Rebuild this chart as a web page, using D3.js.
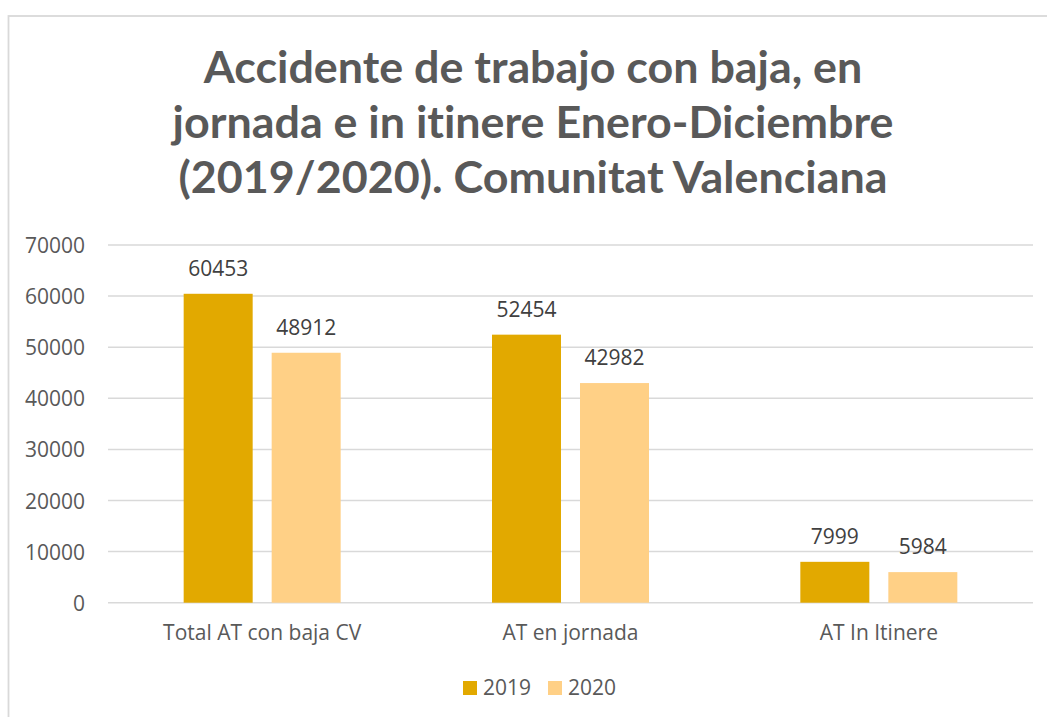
<!DOCTYPE html>
<html>
<head>
<meta charset="utf-8">
<script src="https://cdn.jsdelivr.net/npm/d3@7"></script>
<style>
  html, body { margin: 0; padding: 0; background: #ffffff; }
  svg { display: block; }
  text { font-variant-ligatures: none; font-feature-settings: "liga" 0, "clig" 0, "dlig" 0; }
</style>
</head>
<body>
<svg id="chart" width="1047" height="717"></svg>
<script>
const titleLines = [
  "Accidente de trabajo con baja, en",
  "jornada e in itinere Enero-Diciembre",
  "(2019/2020). Comunitat Valenciana"
];
const categories = ["Total AT con baja CV", "AT en jornada", "AT In Itinere"];
const seriesNames = ["2019", "2020"];
const values2019 = [60453, 52454, 7999];
const values2020 = [48912, 42982, 5984];
const yTicks = [0, 10000, 20000, 30000, 40000, 50000, 60000, 70000];
const colors = ["#E2A900", "#FFD086"];

const svg = d3.select("#chart");
const W = 1047, H = 717;
const font = "'Open Sans', 'DejaVu Sans', sans-serif";
const titleFont = "Lato, 'Open Sans', sans-serif";

// outer frame
svg.append("rect")
  .attr("x", 8.5).attr("y", 16)
  .attr("width", W + 20).attr("height", H + 20)
  .attr("fill", "#ffffff")
  .attr("stroke", "#D9D9D9").attr("stroke-width", 1.8);

// title
const titleCx = 533;
const titleBaselines = [83, 138, 193];
const tg = svg.append("g");
const tnodes = titleLines.map((t, i) => tg.append("text")
  .attr("x", titleCx).attr("y", titleBaselines[i])
  .attr("text-anchor", "middle")
  .attr("font-family", titleFont)
  .attr("font-weight", 700)
  .attr("font-size", 40)
  .attr("fill", "#595959")
  .text(t));
// fit title size so the second line spans its reference width
const w2 = tnodes[1].node().getComputedTextLength();
const titleSize = 40 * 721 / w2;
tnodes.forEach(n => n.attr("font-size", titleSize));

// scales
const plotLeft = 108, plotRight = 1033;
const y = d3.scaleLinear().domain([0, 70000]).range([602.7, 245]);
const x0 = d3.scaleBand().domain(categories).range([plotLeft, plotRight]).paddingInner(0).paddingOuter(0);

// gridlines
svg.append("g").selectAll("line").data(yTicks).join("line")
  .attr("x1", plotLeft).attr("x2", plotRight)
  .attr("y1", d => y(d)).attr("y2", d => y(d))
  .attr("stroke", "#D9D9D9").attr("stroke-width", 1.5);

// y axis labels
const yAxis = d3.axisLeft(y).tickValues(yTicks).tickSize(0).tickPadding(0).tickFormat(d3.format("d"));
const ya = svg.append("g").attr("transform", "translate(85,0)").call(yAxis);
ya.select(".domain").remove();
ya.selectAll("text")
  .attr("font-family", font).attr("font-size", 21)
  .attr("fill", "#595959").attr("dy", "0.36em");

// category axis labels
const xAxis = d3.axisBottom(x0).tickSize(0).tickPadding(0);
const xa = svg.append("g").attr("transform", "translate(0,640)").call(xAxis);
xa.select(".domain").remove();
xa.selectAll("text")
  .attr("font-family", font).attr("font-size", 21)
  .attr("fill", "#595959").attr("dy", 0);

// bars
const data = categories.map((c, i) => ({ cat: c, vals: [
  { s: seriesNames[0], v: values2019[i] },
  { s: seriesNames[1], v: values2020[i] }
]}));
const barW = 69, gap = 19;
const groupW = barW * 2 + gap;
const groups = svg.append("g").selectAll("g").data(data).join("g")
  .attr("transform", d => `translate(${x0(d.cat) + x0.bandwidth() / 2 - groupW / 2},0)`);
groups.selectAll("rect").data(d => d.vals).join("rect")
  .attr("x", (d, i) => i * (barW + gap))
  .attr("width", barW)
  .attr("y", d => y(d.v))
  .attr("height", d => y(0) - y(d.v))
  .attr("fill", (d, i) => colors[i]);
groups.selectAll("text").data(d => d.vals).join("text")
  .attr("x", (d, i) => i * (barW + gap) + barW / 2)
  .attr("y", d => y(d.v) - 18)
  .attr("text-anchor", "middle")
  .attr("font-family", font).attr("font-size", 21)
  .attr("fill", "#404040")
  .text(d => d.v);

// legend
const legendItems = [{ name: seriesNames[0], x: 463 }, { name: seriesNames[1], x: 548 }];
const lg = svg.append("g");
legendItems.forEach((it, i) => {
  lg.append("rect").attr("x", it.x).attr("y", 681).attr("width", 14).attr("height", 14).attr("fill", colors[i]);
  lg.append("text").attr("x", it.x + 20).attr("y", 695)
    .attr("font-family", font).attr("font-size", 21)
    .attr("fill", "#595959").text(it.name);
});
</script>
</body>
</html>
